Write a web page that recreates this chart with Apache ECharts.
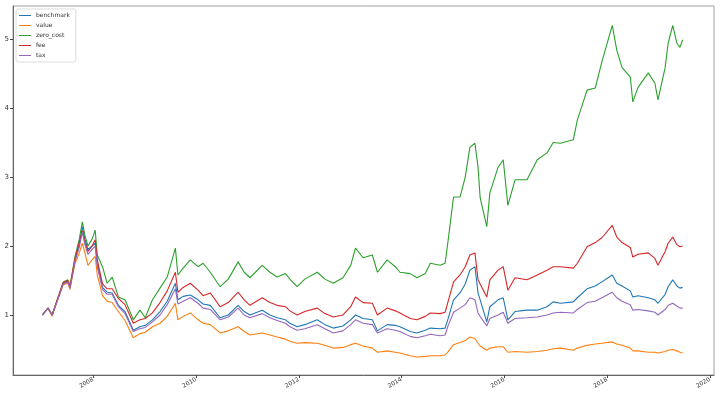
<!DOCTYPE html>
<html>
<head>
<meta charset="utf-8">
<script src="https://cdn.jsdelivr.net/npm/echarts@6/dist/echarts.min.js"></script>
<style>
  html, body { margin: 0; padding: 0; background: #fff; }
  #chart { width: 720px; height: 397px; }
</style>
</head>
<body>
<div id="chart"></div>
<script>
var dates = [
    '2007-01-05', '2007-02-14', '2007-03-15', '2007-04-20', '2007-06-02', '2007-07-05', '2007-07-20', '2007-08-25',
    '2007-09-24', '2007-10-16', '2007-11-03', '2007-11-25', '2007-12-24', '2008-01-15', '2008-01-30', '2008-03-07',
    '2008-04-09', '2008-05-15', '2008-06-28', '2008-08-14', '2008-10-12', '2008-11-28', '2009-01-05', '2009-02-25',
    '2009-04-20', '2009-06-10', '2009-08-07', '2009-08-25', '2009-10-01', '2009-11-21', '2010-01-15', '2010-02-20',
    '2010-04-12', '2010-06-21', '2010-08-18', '2010-10-27', '2010-12-09', '2011-01-19', '2011-04-16', '2011-06-10',
    '2011-07-31', '2011-09-28', '2011-10-30', '2011-12-20', '2012-02-13', '2012-05-11', '2012-07-05', '2012-09-02',
    '2012-11-10', '2013-01-04', '2013-02-07', '2013-04-02', '2013-06-07', '2013-07-13', '2013-09-20', '2013-11-17',
    '2013-12-20', '2014-03-03', '2014-04-20', '2014-06-18', '2014-07-24', '2014-10-01', '2014-11-06', '2014-11-28',
    '2015-01-05', '2015-02-20', '2015-03-29', '2015-05-01', '2015-06-06', '2015-06-28', '2015-07-13', '2015-08-29',
    '2015-09-20', '2015-11-17', '2015-12-24', '2016-01-26', '2016-03-17', '2016-06-10', '2016-08-22', '2016-10-30',
    '2016-12-13', '2017-02-03', '2017-05-05', '2017-06-03', '2017-08-11', '2017-10-08', '2017-11-24', '2018-02-06',
    '2018-03-10', '2018-04-16', '2018-06-14', '2018-07-02', '2018-08-08', '2018-10-20', '2018-12-06', '2018-12-28',
    '2019-02-17', '2019-03-10', '2019-04-12', '2019-05-11', '2019-06-02', '2019-06-21'
];

var zeroCost = [
    1.0, 1.1, 1.0, 1.22, 1.48, 1.51, 1.42, 1.85, 2.1, 2.35, 2.15, 2.0, 2.1, 2.23, 1.87, 1.70,
    1.46, 1.55, 1.26, 1.22, 0.93, 1.07, 0.96, 1.22, 1.39, 1.55, 1.97, 1.58, 1.68, 1.80, 1.70, 1.75,
    1.62, 1.41, 1.52, 1.77, 1.62, 1.54, 1.72, 1.62, 1.55, 1.60, 1.52, 1.41, 1.52, 1.62, 1.52, 1.46,
    1.54, 1.72, 1.97, 1.83, 1.87, 1.62, 1.80, 1.70, 1.62, 1.60, 1.54, 1.60, 1.75, 1.72, 1.75, 2.09,
    2.71, 2.71, 3.0, 3.43, 3.49, 3.14, 2.70, 2.28, 2.77, 3.14, 3.25, 2.59, 2.96, 2.96, 3.25, 3.35,
    3.50, 3.49, 3.54, 3.83, 4.26, 4.29, 4.67, 5.20, 4.84, 4.59, 4.45, 4.09, 4.30, 4.51, 4.36, 4.12,
    4.59, 4.94, 5.20, 4.94, 4.88, 4.99
];

var fee = [
    1.0, 1.1, 1.0, 1.22, 1.47, 1.50, 1.41, 1.82, 2.05, 2.22, 2.05, 1.92, 2.0, 2.09, 1.80, 1.45,
    1.38, 1.38, 1.24, 1.15, 0.88, 0.93, 0.95, 1.03, 1.18, 1.35, 1.62, 1.33, 1.40, 1.46, 1.36, 1.28,
    1.32, 1.12, 1.18, 1.33, 1.22, 1.14, 1.25, 1.18, 1.14, 1.12, 1.06, 1.0, 1.05, 1.10, 1.02, 0.97,
    1.0, 1.12, 1.26, 1.18, 1.17, 1.0, 1.10, 1.06, 1.03, 0.95, 0.93, 0.98, 1.03, 1.02, 1.04, 1.20,
    1.48, 1.58, 1.70, 1.87, 1.90, 1.51, 1.45, 1.26, 1.51, 1.65, 1.70, 1.36, 1.54, 1.51, 1.58, 1.65,
    1.70, 1.70, 1.68, 1.75, 1.99, 2.05, 2.12, 2.30, 2.13, 2.05, 1.98, 1.84, 1.88, 1.90, 1.82, 1.72,
    1.92, 2.04, 2.13, 2.02, 1.99, 2.0
];

var benchmark = [
    1.0, 1.1, 1.0, 1.21, 1.46, 1.49, 1.40, 1.80, 2.02, 2.28, 2.10, 1.95, 2.0, 2.04, 1.75, 1.40,
    1.33, 1.32, 1.14, 1.05, 0.78, 0.83, 0.85, 0.93, 1.05, 1.20, 1.46, 1.22, 1.27, 1.29, 1.22, 1.16,
    1.14, 0.96, 1.0, 1.14, 1.05, 1.0, 1.07, 1.0, 0.96, 0.93, 0.88, 0.83, 0.86, 0.93, 0.86, 0.81,
    0.84, 0.93, 1.0, 0.95, 0.93, 0.77, 0.86, 0.85, 0.83, 0.76, 0.74, 0.78, 0.81, 0.80, 0.81, 0.95,
    1.22, 1.32, 1.45, 1.65, 1.70, 1.32, 1.22, 0.90, 1.12, 1.22, 1.25, 0.93, 1.05, 1.07, 1.07, 1.12,
    1.19, 1.17, 1.19, 1.25, 1.38, 1.42, 1.48, 1.58, 1.46, 1.42, 1.35, 1.26, 1.28, 1.25, 1.22, 1.17,
    1.30, 1.41, 1.51, 1.42, 1.39, 1.40
];

var tax = [
    1.0, 1.1, 1.0, 1.20, 1.45, 1.48, 1.39, 1.78, 1.98, 2.20, 2.02, 1.88, 1.95, 2.0, 1.70, 1.37,
    1.30, 1.30, 1.12, 1.02, 0.76, 0.80, 0.82, 0.90, 1.0, 1.15, 1.38, 1.16, 1.20, 1.25, 1.17, 1.10,
    1.08, 0.93, 0.97, 1.10, 1.0, 0.96, 1.02, 0.96, 0.92, 0.88, 0.83, 0.78, 0.80, 0.86, 0.80, 0.74,
    0.77, 0.86, 0.93, 0.88, 0.86, 0.74, 0.80, 0.78, 0.76, 0.69, 0.67, 0.70, 0.72, 0.70, 0.71, 0.85,
    1.04, 1.10, 1.15, 1.25, 1.22, 1.03, 0.98, 0.84, 0.95, 1.0, 1.04, 0.88, 0.95, 0.96, 0.97, 1.0,
    1.03, 1.04, 1.03, 1.08, 1.18, 1.20, 1.25, 1.33, 1.25, 1.20, 1.15, 1.07, 1.08, 1.06, 1.04, 1.0,
    1.08, 1.14, 1.17, 1.13, 1.10, 1.10
];

var value = [
    1.0, 1.1, 0.98, 1.20, 1.44, 1.46, 1.37, 1.75, 1.90, 2.04, 1.90, 1.72, 1.80, 1.85, 1.58, 1.28,
    1.20, 1.18, 1.05, 0.92, 0.67, 0.73, 0.75, 0.83, 0.88, 0.98, 1.17, 0.93, 0.98, 1.03, 0.93, 0.88,
    0.86, 0.74, 0.77, 0.83, 0.76, 0.71, 0.74, 0.71, 0.68, 0.65, 0.62, 0.59, 0.60, 0.59, 0.56, 0.52,
    0.53, 0.57, 0.59, 0.55, 0.52, 0.46, 0.48, 0.46, 0.45, 0.41, 0.39, 0.40, 0.41, 0.41, 0.42, 0.47,
    0.57, 0.60, 0.63, 0.68, 0.66, 0.59, 0.55, 0.49, 0.52, 0.54, 0.54, 0.46, 0.47, 0.46, 0.47, 0.49,
    0.51, 0.52, 0.49, 0.52, 0.56, 0.58, 0.59, 0.61, 0.58, 0.56, 0.52, 0.48, 0.48, 0.46, 0.46, 0.45,
    0.47, 0.49, 0.50, 0.48, 0.46, 0.45
];

var seriesNames = ['benchmark', 'value', 'zero_cost', 'fee', 'tax'];
var seriesColors = ['#1f77b4', '#ff7f0e', '#2ca02c', '#d62728', '#9467bd'];
var yTicks = [1, 2, 3, 4, 5];
var xTickYears = [2008, 2010, 2012, 2014, 2016, 2018, 2020];

function pairs(vals) {
    var out = [];
    for (var i = 0; i < dates.length; i++) {
        out.push([new Date(dates[i]).getTime(), vals[i]]);
    }
    return out;
}

var xTicks = xTickYears.map(function (y) { return Date.UTC(y, 0, 1); });
var seriesData = [benchmark, value, zeroCost, fee, tax];

var chart = echarts.init(document.getElementById('chart'));
var option = {
    backgroundColor: '#fff',
    animation: false,
    color: seriesColors,
    grid: {
        left: 13, right: 6, top: 6, bottom: 22,
        show: true, borderColor: '#a0a0a0', borderWidth: 1
    },
    legend: {
        orient: 'vertical',
        left: 16, top: 9,
        itemWidth: 12, itemHeight: 1, itemGap: 3,
        icon: 'rect',
        backgroundColor: '#fff',
        borderColor: '#dcdcdc', borderWidth: 1, borderRadius: 2,
        padding: [3, 6, 3, 3],
        textStyle: { fontSize: 6, lineHeight: 7, color: '#333', fontFamily: 'DejaVu Sans' },
        data: seriesNames
    },
    xAxis: {
        type: 'value',
        min: Date.UTC(2006, 5, 10),
        max: Date.UTC(2020, 0, 30),
        splitLine: { show: false },
        axisLine: { lineStyle: { color: '#666' } },
        axisTick: { customValues: xTicks, length: 3, lineStyle: { color: '#444' } },
        axisLabel: {
            customValues: xTicks,
            rotate: 30,
            fontSize: 6,
            color: '#333',
            margin: 4,
            fontFamily: 'DejaVu Sans',
            formatter: function (v) { return String(new Date(v).getUTCFullYear()); }
        }
    },
    yAxis: {
        type: 'value',
        min: 0.13, max: 5.48,
        splitLine: { show: false },
        axisLine: { show: true, lineStyle: { color: '#666' } },
        axisTick: { show: true, customValues: yTicks, length: 3, lineStyle: { color: '#444' } },
        axisLabel: {
            customValues: yTicks,
            fontSize: 7,
            color: '#333',
            margin: 4,
            fontFamily: 'DejaVu Sans'
        }
    },
    series: seriesNames.map(function (name, i) {
        return {
            name: name,
            type: 'line',
            symbol: 'none',
            data: pairs(seriesData[i]),
            lineStyle: { width: 1.1 }
        };
    })
};
chart.setOption(option);
</script>
</body>
</html>
